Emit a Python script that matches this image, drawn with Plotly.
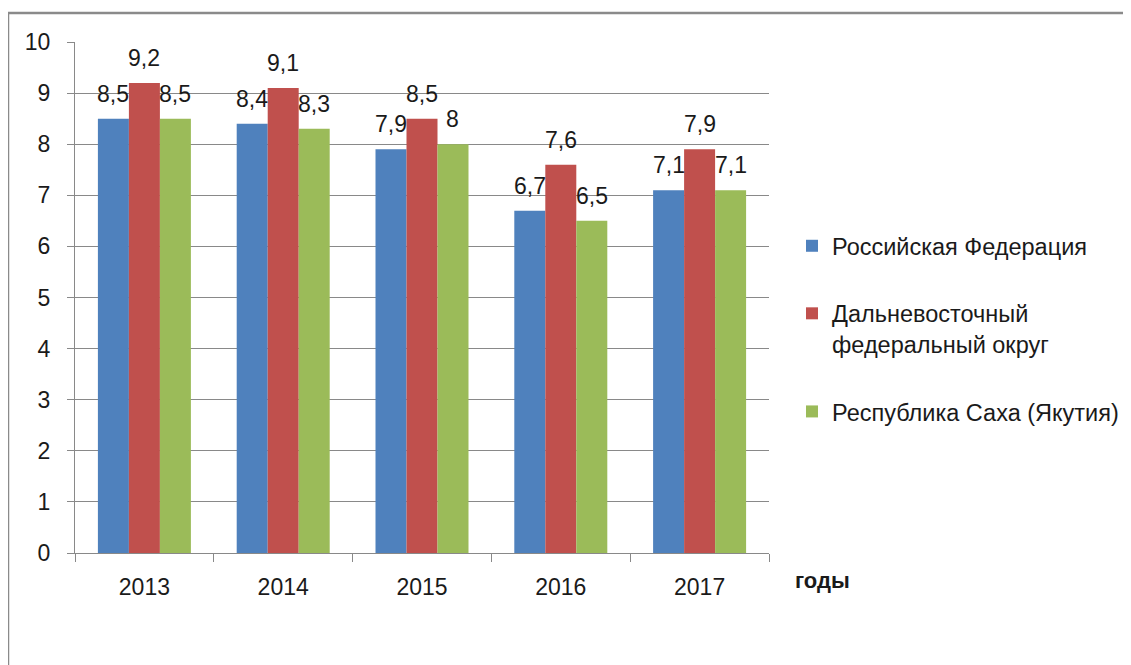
import plotly.graph_objects as go

years = ["2013", "2014", "2015", "2016", "2017"]
series_names = ["Российская Федерация", "Дальневосточный<br>федеральный округ", "Республика Саха (Якутия)"]
rf = [8.5, 8.4, 7.9, 6.7, 7.1]
dfo = [9.2, 9.1, 8.5, 7.6, 7.9]
yakutia = [8.5, 8.3, 8.0, 6.5, 7.1]
colors = ["#4F81BD", "#C0504D", "#9BBB59"]
all_values = [rf, dfo, yakutia]

FONT = "Liberation Sans"
W, H = 1131, 665
OFF = 8  # page body margin
ML, MT = 75 - OFF, 42 - OFF
PR, PB = 769 - OFF, 553 - OFF
MR, MB = W - PR, H - PB
plot_w = PR - ML
plot_h = PB - MT
bargap = 0.33
group_px = plot_w / len(years)
bar_px = group_px * (1 - bargap) / 3

def px_x(px):
    return (px - OFF - ML) / plot_w

def px_y(py):
    return (PB - (py - OFF)) / plot_h

fig = go.Figure()
for i, (name, vals, col) in enumerate(zip(series_names, all_values, colors)):
    fig.add_trace(go.Bar(
        x=years, y=vals, name=name, marker=dict(color=col, line=dict(width=0)),
        legendgroup=f"g{i}",
    ))

def fmt(v):
    return f"{v:g}".replace(".", ",")

for i, vals in enumerate(all_values):
    for k, v in enumerate(vals):
        fig.add_annotation(
            x=k, y=v, text=fmt(v), showarrow=False, yanchor="bottom",
            xshift=(i - 1) * bar_px, yshift=10,
            font=dict(family=FONT, size=23, color="#1a1a1a"),
        )

# "годы" axis caption
fig.add_annotation(
    x=px_x(793), y=px_y(580), xref="paper", yref="paper",
    text="<b>годы</b>", showarrow=False, xanchor="left", yanchor="middle",
    font=dict(family=FONT, size=22, color="#1a1a1a"),
)

# outer frame
fig.add_shape(
    type="rect", xref="paper", yref="paper",
    x0=px_x(8), x1=px_x(1150),
    y0=px_y(700), y1=px_y(13),
    line=dict(color="#8a8a8a", width=2.5), fillcolor="rgba(0,0,0,0)", layer="below",
)

gray = "#898989"
fig.update_layout(
    width=W, height=H,
    margin=dict(l=ML, r=MR, t=MT, b=MB),
    plot_bgcolor="white", paper_bgcolor="white",
    barmode="group", bargap=bargap, bargroupgap=0,
    font=dict(family=FONT, size=23, color="#1a1a1a"),
    showlegend=True,
    legend=dict(
        x=px_x(832 - 40), y=px_y(224),
        xanchor="left", yanchor="top",
        traceorder="grouped", tracegroupgap=34, valign="top",
        font=dict(family=FONT, size=23.5, color="#1a1a1a"),
        bgcolor="rgba(0,0,0,0)",
    ),
    xaxis=dict(
        type="category", categoryorder="array", categoryarray=years,
        range=[-0.5, len(years) - 0.5], autorange=False,
        showline=True, linecolor=gray, linewidth=1,
        ticks="outside", tickson="boundaries", ticklen=8, tickcolor=gray,
        showgrid=False, ticklabelstandoff=13,
        tickfont=dict(family=FONT, size=23, color="#1a1a1a"),
    ),
    yaxis=dict(
        range=[0, 10], dtick=1, showline=True, linecolor=gray, linewidth=1,
        ticks="outside", ticklen=7, tickcolor=gray,
        showgrid=True, gridcolor=gray, gridwidth=1, zeroline=False,
        ticklabelstandoff=12,
        tickfont=dict(family=FONT, size=23, color="#1a1a1a"),
    ),
)

fig.write_html("out.html")
